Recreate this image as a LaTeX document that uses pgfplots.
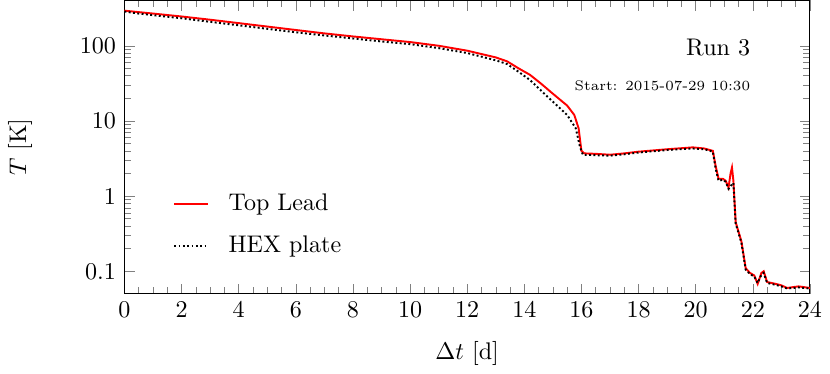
\documentclass[border=0pt]{standalone}
\usepackage{pgfplots}
\pgfplotsset{compat=1.18}

\begin{document}
\begin{tikzpicture}
\begin{axis}[
  scale only axis,
  width=285pt, height=122pt,
  ymode=log,
  xmin=0, xmax=24,
  ymin=0.05, ymax=400,
  xtick={0,2,...,24},
  minor x tick num=3,
  ytick={0.1,1,10,100},
  yticklabels={0.1,1,10,100},
  xlabel={$\Delta t$ [d]},
  ylabel={$T$ [K]},
  xlabel shift=3pt,
  ylabel shift=13pt,
  legend style={at={(0.06,0.093)},anchor=south west,draw=none,fill=none,row sep=5pt,column sep=6pt},
  legend cell align=left,
  legend image code/.code={\draw[#1] (0cm,0cm) -- (0.5cm,0cm);},
]
\addplot[red,thick] coordinates {
(0,293) (0.5,280) (1,268) (2,245) (3,222) (4,200) (5,180) (6,162) (7,146)
(8,133) (9,122) (10,112) (11,100) (12,86) (13,70) (13.4,62) (13.8,50) (14.2,41)
(14.6,31) (15,23) (15.5,16) (15.75,12) (15.9,8) (16.0,4.0) (16.1,3.7)
(16.5,3.65) (17,3.55) (17.5,3.7) (18,3.9) (19,4.2) (19.9,4.45) (20.3,4.3)
(20.6,4.0) (20.7,2.5) (20.8,1.7) (20.95,1.7) (21.05,1.6) (21.15,1.3)
(21.22,2.0) (21.27,2.4) (21.32,1.6) (21.4,0.45) (21.6,0.25) (21.75,0.11)
(21.9,0.095) (22.05,0.088) (22.17,0.068) (22.3,0.095) (22.38,0.1)
(22.5,0.072) (22.8,0.068) (23.0,0.065) (23.2,0.06) (23.6,0.063) (24,0.06)
};
\addlegendentry{Top Lead}
\addplot[black,thick,densely dotted] coordinates {
(0,285) (0.5,268) (1,255) (2,232) (3,208) (4,187) (5,168) (6,151) (7,137)
(8,125) (9,114) (10,105) (11,93) (12,80) (13,64) (13.4,57) (13.8,45) (14.2,35)
(14.6,25) (15,18) (15.5,12) (15.8,8) (15.95,4.5) (16.05,3.55) (16.5,3.5)
(17,3.45) (17.5,3.6) (18,3.8) (19,4.1) (19.9,4.3) (20.3,4.2) (20.6,3.9)
(20.7,2.3) (20.8,1.6) (20.95,1.65) (21.05,1.55) (21.15,1.25) (21.25,1.4)
(21.32,1.5) (21.4,0.43) (21.6,0.24) (21.75,0.105) (21.9,0.092) (22.05,0.085)
(22.17,0.07) (22.3,0.09) (22.38,0.095) (22.5,0.07) (22.8,0.066)
(23.0,0.063) (23.2,0.059) (23.6,0.061) (24,0.059)
};
\addlegendentry{HEX plate}
\node[anchor=east] at (rel axis cs:0.925,0.84) {Run 3};
\node[anchor=east,font=\fontsize{5.8}{7}\selectfont] at (rel axis cs:0.925,0.71) {Start: 2015-07-29 10:30};
\end{axis}
\end{tikzpicture}
\end{document}
